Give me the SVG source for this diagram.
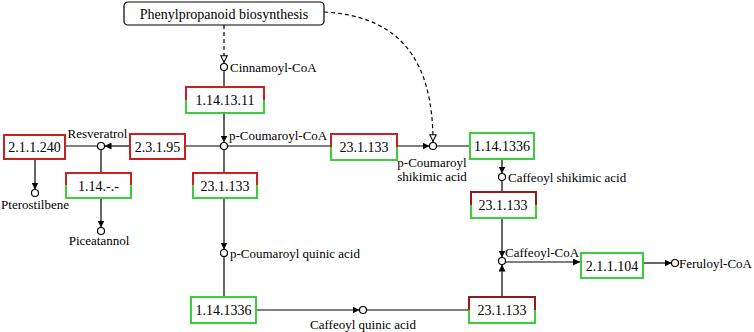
<svg xmlns="http://www.w3.org/2000/svg" width="754" height="332" viewBox="0 0 754 332" font-family="'Liberation Serif', 'DejaVu Serif', serif">
<style>
text{fill:#000}
.bl{font-size:14px;text-anchor:middle}
.cl{font-size:13px}
.c{text-anchor:middle}
.bg{fill:#fff;stroke:none}
.r{fill:none;stroke:#cc1f1f;stroke-width:2}
.rd{fill:none;stroke:#921b1b;stroke-width:2}
.g{fill:none;stroke:#3ccc3c;stroke-width:2}
.ln{fill:none;stroke:#000;stroke-width:1.2}
.ds{fill:none;stroke:#000;stroke-width:1.2;stroke-dasharray:4 3}
.cp{fill:#fff;stroke:#000;stroke-width:1.2}
</style>
<defs>
<marker id="a" viewBox="0 0 10 10" refX="10" refY="5" markerWidth="7" markerHeight="7" markerUnits="userSpaceOnUse" orient="auto"><path d="M0,0 L10,5 L0,10 Z" fill="#000"/></marker>
<marker id="o" viewBox="0 0 10 10" refX="10" refY="5" markerWidth="8" markerHeight="8" markerUnits="userSpaceOnUse" orient="auto"><path d="M1,1 L9,5 L1,9 Z" fill="#fff" stroke="#000" stroke-width="1.3"/></marker>
</defs>

<g id="connectors">
<line class="ds" x1="224" y1="25" x2="224" y2="63" marker-end="url(#o)"/>
<path class="ds" d="M324,12 C400,16 433,60 433,142" marker-end="url(#o)"/>
<line class="ln" x1="224" y1="71" x2="224" y2="87"/>
<line class="ln" x1="224" y1="113" x2="224" y2="142.5" marker-end="url(#a)"/>
<line class="ln" x1="224" y1="149.5" x2="224" y2="173"/>
<line class="ln" x1="130" y1="146" x2="104.5" y2="146" marker-end="url(#a)"/>
<line class="ln" x1="65" y1="146" x2="97.5" y2="146"/>
<line class="ln" x1="185" y1="146" x2="220.5" y2="146"/>
<line class="ln" x1="227.5" y1="146" x2="331" y2="146"/>
<line class="ln" x1="397" y1="146" x2="429.5" y2="146" marker-end="url(#a)"/>
<line class="ln" x1="436.5" y1="146" x2="470" y2="146"/>
<line class="ln" x1="35" y1="159" x2="35" y2="189.5" marker-end="url(#a)"/>
<line class="ln" x1="101" y1="149.5" x2="101" y2="173"/>
<line class="ln" x1="101" y1="198" x2="101" y2="227.5" marker-end="url(#a)"/>
<line class="ln" x1="224" y1="198" x2="224" y2="249.5" marker-end="url(#a)"/>
<line class="ln" x1="224" y1="256.5" x2="224" y2="297"/>
<line class="ln" x1="256" y1="310" x2="359.5" y2="310" marker-end="url(#a)"/>
<line class="ln" x1="366.5" y1="310" x2="469" y2="310"/>
<line class="ln" x1="502" y1="159" x2="502" y2="173.5" marker-end="url(#a)"/>
<line class="ln" x1="502" y1="180.5" x2="502" y2="192"/>
<line class="ln" x1="502" y1="218" x2="502" y2="257.5" marker-end="url(#a)"/>
<line class="ln" x1="502" y1="297" x2="502" y2="264.5" marker-end="url(#a)"/>
<line class="ln" x1="505.5" y1="262" x2="580" y2="262" marker-end="url(#a)"/>
<line class="ln" x1="643" y1="263" x2="671.5" y2="263" marker-end="url(#a)"/>
</g>

<g id="phenylpropanoid">
<rect x="124" y="2" width="200" height="23" rx="4" fill="#fff" stroke="#000" stroke-width="1.2"/>
<text class="bl" x="224" y="18.5">Phenylpropanoid biosynthesis</text>
</g>

<g id="cinnamoyl-coa">
<circle class="cp" cx="224" cy="67" r="3.5"/>
<text class="cl" x="230" y="72">Cinnamoyl-CoA</text>
</g>

<g id="ec-1.14.13.11">
<rect class="bg" x="186" y="87" width="78" height="26"/>
<path class="r" d="M186,100 V87 H264 V100"/>
<path class="g" d="M186,100 V113 H264 V100"/>
<text class="bl" x="225" y="105">1.14.13.11</text>
</g>

<g id="p-coumaroyl-coa">
<circle class="cp" cx="224" cy="146" r="3.5"/>
<text class="cl" x="229" y="140">p-Coumaroyl-CoA</text>
</g>

<g id="ec-2.1.1.240">
<rect x="4" y="135" width="61" height="24" fill="#fff" stroke="#cc1f1f" stroke-width="2"/>
<text class="bl" x="34.5" y="152">2.1.1.240</text>
</g>

<g id="resveratrol">
<circle class="cp" cx="101" cy="146" r="3.5"/>
<text class="cl c" x="97.5" y="138">Resveratrol</text>
</g>

<g id="ec-2.3.1.95">
<rect x="130" y="134" width="55" height="25" fill="#fff" stroke="#cc1f1f" stroke-width="2"/>
<text class="bl" x="157.5" y="151.5">2.3.1.95</text>
</g>

<g id="ec-1.14.x.x">
<rect class="bg" x="66" y="173" width="65" height="25"/>
<path class="r" d="M66,185.5 V173 H131 V185.5"/>
<path class="g" d="M66,185.5 V198 H131 V185.5"/>
<text class="bl" x="98.5" y="190.5">1.14.-.-</text>
</g>

<g id="pterostilbene">
<circle class="cp" cx="35" cy="193" r="3.5"/>
<text class="cl c" x="35" y="209">Pterostilbene</text>
</g>

<g id="piceatannol">
<circle class="cp" cx="101" cy="231" r="3.5"/>
<text class="cl c" x="99" y="245">Piceatannol</text>
</g>

<g id="ec-23.1.133-a">
<rect class="bg" x="193" y="173" width="64" height="25"/>
<path class="r" d="M193,185.5 V173 H257 V185.5"/>
<path class="g" d="M193,185.5 V198 H257 V185.5"/>
<text class="bl" x="225" y="190.5">23.1.133</text>
</g>

<g id="p-coumaroyl-quinic-acid">
<circle class="cp" cx="224" cy="253" r="3.5"/>
<text class="cl" x="230" y="258">p-Coumaroyl quinic acid</text>
</g>

<g id="ec-1.14.1336-a">
<rect x="191" y="297" width="65" height="26" fill="#fff" stroke="#3ccc3c" stroke-width="2"/>
<text class="bl" x="223.5" y="315">1.14.1336</text>
</g>

<g id="caffeoyl-quinic-acid">
<circle class="cp" cx="363" cy="310" r="3.5"/>
<text class="cl c" x="363" y="329">Caffeoyl quinic acid</text>
</g>

<g id="ec-23.1.133-b">
<rect class="bg" x="331" y="134" width="66" height="26"/>
<path class="r" d="M331,147 V134 H397 V147"/>
<path class="g" d="M331,147 V160 H397 V147"/>
<text class="bl" x="364" y="152">23.1.133</text>
</g>

<g id="p-coumaroyl-shikimic-acid">
<circle class="cp" cx="433" cy="146" r="3.5"/>
<text class="cl c" x="432" y="167">p-Coumaroyl</text>
<text class="cl c" x="432" y="181">shikimic acid</text>
</g>

<g id="ec-1.14.1336-b">
<rect x="470" y="133" width="64" height="26" fill="#fff" stroke="#3ccc3c" stroke-width="2"/>
<text class="bl" x="502" y="151">1.14.1336</text>
</g>

<g id="caffeoyl-shikimic-acid">
<circle class="cp" cx="502" cy="177" r="3.5"/>
<text class="cl" x="508" y="182">Caffeoyl shikimic acid</text>
</g>

<g id="ec-23.1.133-c">
<rect class="bg" x="471" y="192" width="65" height="26"/>
<path class="rd" d="M471,205 V192 H536 V205"/>
<path class="g" d="M471,205 V218 H536 V205"/>
<text class="bl" x="503" y="210">23.1.133</text>
</g>

<g id="caffeoyl-coa">
<circle class="cp" cx="502" cy="261" r="3.5"/>
<text class="cl" x="505" y="257">Caffeoyl-CoA</text>
</g>

<g id="ec-2.1.1.104">
<rect x="581" y="253" width="62" height="25" fill="#fff" stroke="#3ccc3c" stroke-width="2"/>
<text class="bl" x="612" y="270.5">2.1.1.104</text>
</g>

<g id="feruloyl-coa">
<circle class="cp" cx="675" cy="263" r="3.5"/>
<text class="cl" x="679" y="267.5">Feruloyl-CoA</text>
</g>

<g id="ec-23.1.133-d">
<rect class="bg" x="469" y="297" width="66" height="26"/>
<path class="rd" d="M469,310 V297 H535 V310"/>
<path class="g" d="M469,310 V323 H535 V310"/>
<text class="bl" x="502" y="315">23.1.133</text>
</g>
</svg>
